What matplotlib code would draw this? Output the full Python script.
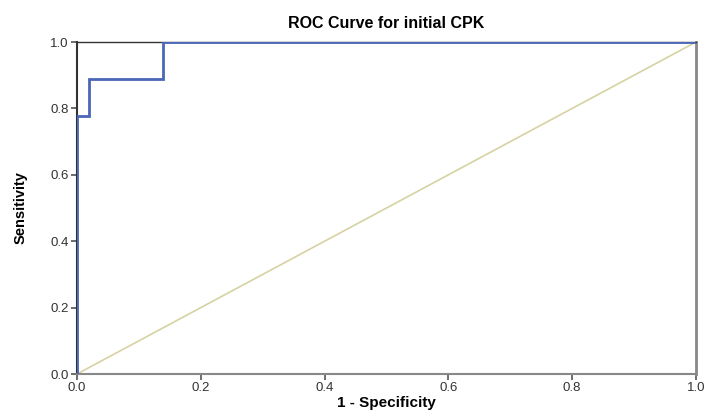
import matplotlib
matplotlib.use('Agg')
import matplotlib.pyplot as plt

# ROC coordinates (1 - specificity, sensitivity)
fpr = [0.0, 0.0, 0.019, 0.019, 0.139, 0.139, 1.0]
tpr = [0.0, 0.778, 0.778, 0.889, 0.889, 1.0, 1.0]
ref_x = [0.0, 1.0]
ref_y = [0.0, 1.0]
ticks = [0.0, 0.2, 0.4, 0.6, 0.8, 1.0]

plt.rcParams['font.family'] = ['Liberation Sans', 'DejaVu Sans']

fig = plt.figure(figsize=(7.15, 4.12), dpi=100)
ax = fig.add_axes([0.1077, 0.0922, 0.8657, 0.8058])

ax.plot(ref_x, ref_y, color='#d6d2a2', lw=1.2, zorder=2)
ax.plot(fpr, tpr, color='#4a66b8', lw=2.0, zorder=3, solid_joinstyle='miter')

ax.set_xlim(0, 1)
ax.set_ylim(0, 1)
ax.set_xticks(ticks)
ax.set_yticks(ticks)
ax.set_xticklabels(['%.1f' % t for t in ticks], fontsize=9.5, color='#333333')
ax.set_yticklabels(['%.1f' % t for t in ticks], fontsize=9.5, color='#333333')
ax.tick_params(direction='out', length=4, width=1.2, color='#555555', pad=2)

ax.spines['left'].set_color('#333333')
ax.spines['left'].set_linewidth(1.5)
ax.spines['bottom'].set_color('#888888')
ax.spines['bottom'].set_linewidth(1.5)
ax.spines['right'].set_color('#888888')
ax.spines['right'].set_linewidth(2.0)
ax.spines['top'].set_color('#333333')
ax.spines['top'].set_linewidth(1.0)

ax.set_title('ROC Curve for initial CPK', fontsize=11.5, fontweight='bold', pad=10)
ax.set_xlabel('1 - Specificity', fontsize=11, fontweight='bold', labelpad=1)
ax.set_ylabel('Sensitivity', fontsize=10.5, fontweight='bold', labelpad=16)

fig.savefig('out.png', dpi=100)
